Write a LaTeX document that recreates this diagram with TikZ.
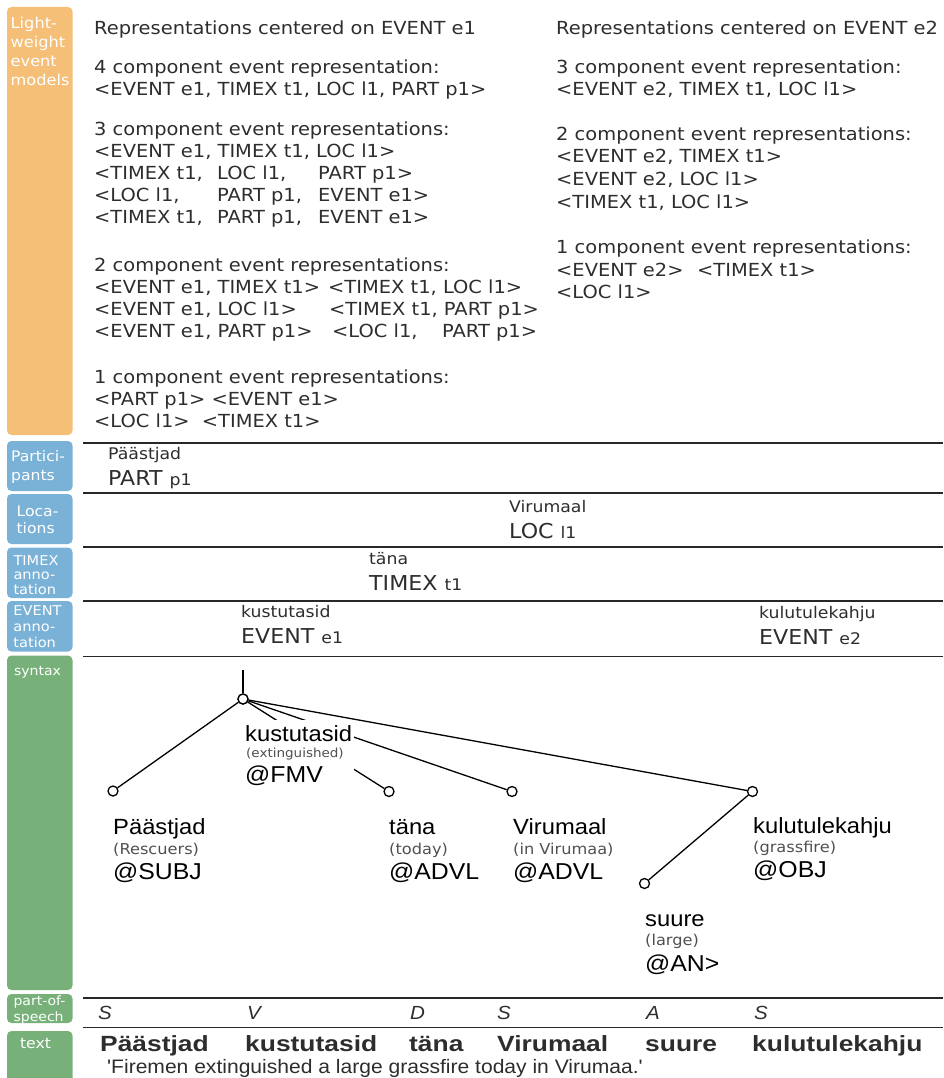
\documentclass[tikz,border=0pt]{standalone}
\usepackage{fontspec}
\setmainfont{DejaVu Sans}
\newfontfamily\dv[FakeStretch=1.08]{DejaVu Sans}
\newfontfamily\ar[FakeStretch=1.08]{Liberation Sans}
\newfontfamily\arw[FakeStretch=1.2]{Liberation Sans}
\newfontfamily\arq[FakeStretch=1.08]{Liberation Sans}
\definecolor{org}{RGB}{245,191,119}
\definecolor{blu}{RGB}{122,178,215}
\definecolor{grn}{RGB}{119,177,121}
\definecolor{txt}{RGB}{45,45,45}
\definecolor{rulec}{RGB}{40,40,40}
\definecolor{gl}{RGB}{80,80,80}
\begin{document}
\begin{tikzpicture}[x=1pt,y=-1pt,
  sidebox/.style={rounded corners=4.5pt},
  sidelbl/.style={text=white, align=left, inner sep=0pt},
  rep/.style={anchor=base west, inner sep=0pt, text=txt, font=\dv\fontsize{18}{22}\selectfont},
  rulel/.style={draw=rulec, line width=1.8pt},
  annsm/.style={anchor=base west, inner sep=0pt, text=txt, font=\dv\fontsize{16}{18}\selectfont},
  annbig/.style={anchor=base west, inner sep=0pt, text=txt, font=\dv\fontsize{20.5}{22}\selectfont},
  dep/.style={circle, draw=black, fill=white, line width=1.3pt, minimum size=10pt, inner sep=0pt},
  edge/.style={draw=black, line width=1.3pt},
  word/.style={anchor=base west, inner sep=0pt, font=\ar\fontsize{22}{24}\selectfont},
  gloss/.style={anchor=base west, inner sep=0pt, text=gl, font=\dv\fontsize{15}{18}\selectfont},
  func/.style={anchor=base west, inner sep=0pt, font=\ar\fontsize{23}{26}\selectfont},
  posl/.style={anchor=base west, inner sep=0pt, text=txt, font=\arq\itshape\fontsize{19}{20}\selectfont},
  tok/.style={anchor=base west, inner sep=0pt, text=txt, font=\arw\bfseries\fontsize{22}{24}\selectfont},
]
\useasboundingbox (0,0) rectangle (943,1078);

% ---- side boxes
\fill[org, sidebox] (7,7) rectangle (72.5,435);
\fill[blu, sidebox] (7,441) rectangle (72.5,491);
\fill[blu, sidebox] (7,494) rectangle (72.5,544);
\fill[blu, sidebox] (7,547.5) rectangle (72.5,598);
\fill[blu, sidebox] (7,601) rectangle (72.5,651.5);
\fill[grn, sidebox] (7,655.5) rectangle (72.5,990);
\fill[grn, sidebox] (7,994) rectangle (72.5,1023);
\fill[grn, sidebox] (7,1031) rectangle (72.5,1095);

\node[sidelbl, anchor=west, font=\dv\fontsize{15}{19.2}\selectfont] (lLW) at (10.5,51.5) {Light-\\weight\\event\\models};
\node[sidelbl, font=\dv\fontsize{14.5}{19}\selectfont] (lPA) at (38,467) {Partici-\\pants};
\node[sidelbl, font=\dv\fontsize{14.5}{17}\selectfont] (lLO) at (37.5,519.5) {Loca-\\tions};
\node[sidelbl, font=\dv\fontsize{13.5}{14.5}\selectfont] (lTI) at (36,575) {TIMEX\\anno-\\tation};
\node[sidelbl, font=\dv\fontsize{13.5}{16}\selectfont] (lEV) at (37.5,627) {EVENT\\anno-\\tation};
\node[sidelbl, font=\dv\fontsize{13}{15}\selectfont] (lSY) at (37.5,672.5) {syntax};
\node[sidelbl, font=\dv\fontsize{13}{16.5}\selectfont] (lPO) at (39.5,1010) {part-of-\\speech};
\node[sidelbl, font=\dv\fontsize{14.5}{17}\selectfont] (lTX) at (35.5,1043) {text};

% ---- representations, EVENT e1
\node[rep] (a0) at (94,34.5) {Representations centered on EVENT e1};
\node[rep] (a1) at (94,73.5) {4 component event representation:};
\node[rep] (a2) at (94,95.5) {<EVENT e1, TIMEX t1, LOC l1, PART p1>};
\node[rep] (a3) at (94,135.5) {3 component event representations:};
\node[rep] (a4) at (94,157.5) {<EVENT e1, TIMEX t1, LOC l1>};
\node[rep] (a5) at (94,179.5) {\makebox[123pt][l]{<TIMEX t1,}\makebox[101pt][l]{LOC l1,}PART p1>};
\node[rep] (a6) at (94,201.5) {\makebox[123pt][l]{<LOC l1,}\makebox[101pt][l]{PART p1,}EVENT e1>};
\node[rep] (a7) at (94,223.5) {\makebox[123pt][l]{<TIMEX t1,}\makebox[101pt][l]{PART p1,}EVENT e1>};
\node[rep] (a8) at (94,271.5) {2 component event representations:};
\node[rep] (a9) at (94,293.5) {\makebox[234pt][l]{<EVENT e1, TIMEX t1>}<TIMEX t1, LOC l1>};
\node[rep] (a10) at (94,315.5) {\makebox[235pt][l]{<EVENT e1, LOC l1>}<TIMEX t1, PART p1>};
\node[rep] (a11) at (94,337.5) {\makebox[238pt][l]{<EVENT e1, PART p1>}\makebox[110pt][l]{<LOC l1,}PART p1>};
\node[rep] (a12) at (94,383.5) {1 component event representations:};
\node[rep] (a13) at (94,405.5) {<PART p1> <EVENT e1>};
\node[rep] (a14) at (94,427.5) {<LOC l1>\hspace{6pt} <TIMEX t1>};

% ---- representations, EVENT e2
\node[rep] (b0) at (556,34.5) {Representations centered on EVENT e2};
\node[rep] (b1) at (556,73.5) {3 component event representation:};
\node[rep] (b2) at (556,95.5) {<EVENT e2, TIMEX t1, LOC l1>};
\node[rep] (b3) at (556,140.5) {2 component event representations:};
\node[rep] (b4) at (556,163) {<EVENT e2, TIMEX t1>};
\node[rep] (b5) at (556,185.5) {<EVENT e2, LOC l1>};
\node[rep] (b6) at (556,208) {<TIMEX t1, LOC l1>};
\node[rep] (b7) at (556,253.5) {1 component event representations:};
\node[rep] (b8) at (556,276) {\makebox[141pt][l]{<EVENT e2>}<TIMEX t1>};
\node[rep] (b9) at (556,298.5) {<LOC l1>};

% ---- layer rules
\coordinate (h1l) at (83,443); \coordinate (h1r) at (943,443);
\coordinate (h2l) at (83,493); \coordinate (h2r) at (943,493);
\coordinate (h3l) at (83,547); \coordinate (h3r) at (943,547);
\coordinate (h4l) at (83,601); \coordinate (h4r) at (943,601);
\coordinate (h5l) at (83,656.5); \coordinate (h5r) at (943,656.5);
\coordinate (h6l) at (83,998); \coordinate (h6r) at (943,998);
\coordinate (h7l) at (83,1027.5); \coordinate (h7r) at (943,1027.5);
\foreach \i in {1,...,7} { \draw[rulel] (h\i l) -- (h\i r); }

% ---- annotation layers
\node[annsm] (pw) at (108,459) {Päästjad};
\node[annbig] (pt) at (108,485.5) {PART {\fontsize{16}{18}\selectfont p1}};
\node[annsm] (lw) at (509,512) {Virumaal};
\node[annbig] (lt) at (509,538) {LOC {\fontsize{16}{18}\selectfont l1}};
\node[annsm] (tw) at (369,564) {täna};
\node[annbig] (tt) at (369,590) {TIMEX {\fontsize{16}{18}\selectfont t1}};
\node[annsm] (ew) at (241,617) {kustutasid};
\node[annbig] (et) at (241,643) {EVENT {\fontsize{16}{18}\selectfont e1}};
\node[annsm] (fw) at (759,618) {kulutulekahju};
\node[annbig] (ft) at (759,644) {EVENT {\fontsize{16}{18}\selectfont e2}};

% ---- dependency tree
\coordinate (top) at (243,670);
\node[dep] (root) at (243,699) {};
\node[dep] (cP) at (113,791) {};
\node[dep] (cT) at (389,791.5) {};
\node[dep] (cV) at (512,791.5) {};
\node[dep] (cK) at (752.5,791.5) {};
\node[dep] (cS) at (644.5,883.5) {};
\draw[edge] (top) -- (root);
\draw[edge] (root) -- (cP);
\draw[edge] (root) -- (cT);
\draw[edge] (root) -- (cV);
\draw[edge] (root) -- (cK);
\draw[edge] (cK) -- (cS);
\node[dep] at (root) {};

% mask behind the head word
\node[fill=white, inner sep=0pt, minimum width=110pt, minimum height=68pt, anchor=north west] (kmask) at (244,720) {};
\node[word] (kw) at (245,741) {kustutasid};
\node[gloss, font=\dv\fontsize{12.5}{15}\selectfont] (kg) at (246,757.5) {(extinguished)};
\node[func] (kf) at (245,782) {@FMV};

\node[word] (pw2) at (113,834) {Päästjad};
\node[gloss] (pg) at (113,854) {(Rescuers)};
\node[func] (pf) at (113,879.5) {@SUBJ};

\node[word] (tw2) at (389,834) {täna};
\node[gloss] (tg) at (389,854) {(today)};
\node[func] (tf) at (389,879.5) {@ADVL};

\node[word] (vw2) at (513,834) {Virumaal};
\node[gloss] (vg) at (513,854) {(in Virumaa)};
\node[func] (vf) at (513,879.5) {@ADVL};

\node[word] (kuw) at (753,833.5) {kulutulekahju};
\node[gloss] (kug) at (753,852.5) {(grassfire)};
\node[func] (kuf) at (753,877) {@OBJ};

\node[word] (sw) at (645,926) {suure};
\node[gloss] (sg) at (645,945) {(large)};
\node[func] (sf) at (645,971) {@AN>};

% ---- part of speech
\node[posl] (p1) at (98,1019) {S};
\node[posl] (p2) at (247,1019) {V};
\node[posl] (p3) at (410,1019) {D};
\node[posl] (p4) at (497,1019) {S};
\node[posl] (p5) at (646,1019) {A};
\node[posl] (p6) at (754,1019) {S};

% ---- text
\node[tok] (t1) at (100,1051) {Päästjad};
\node[tok] (t2) at (245,1051) {kustutasid};
\node[tok] (t3) at (409,1051) {täna};
\node[tok] (t4) at (497,1051) {Virumaal};
\node[tok] (t5) at (645,1051) {suure};
\node[tok] (t6) at (752,1051) {kulutulekahju};
\node[anchor=base west, inner sep=0pt, text=txt, font=\arq\fontsize{19.5}{20}\selectfont] (q) at (107,1073.5) {'Firemen extinguished a large grassfire today in Virumaa.'};
\end{tikzpicture}
\end{document}
